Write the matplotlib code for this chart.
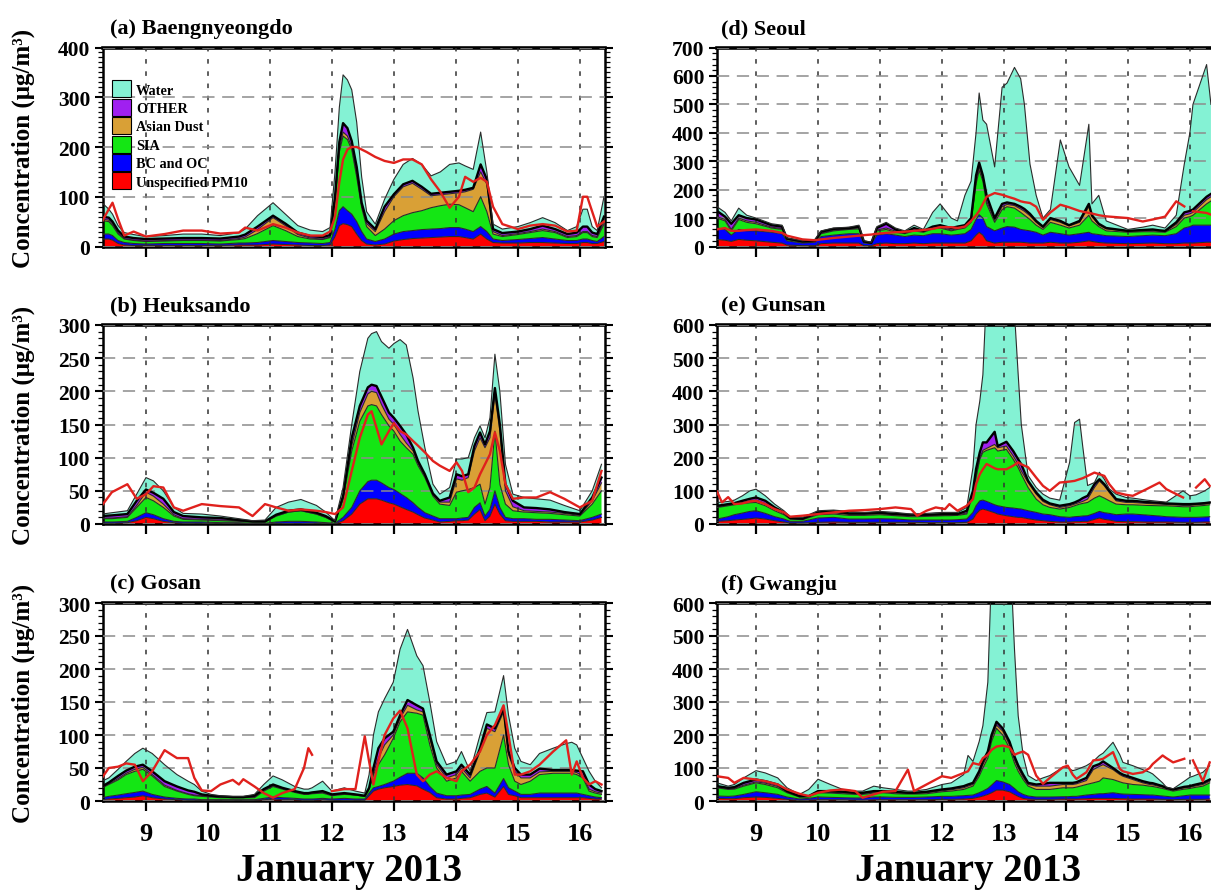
#!/usr/bin/env python3
"""Stacked PM10 composition at six Korean sites, January 2013 (model layers + observed line)."""

import numpy as np
import matplotlib
matplotlib.use('Agg')
import matplotlib.pyplot as plt
from matplotlib.patches import Patch
from matplotlib.ticker import MultipleLocator

plt.rcParams['font.family'] = ['Liberation Serif', 'DejaVu Serif']
plt.rcParams['font.weight'] = 'bold'

nan = float('nan')

LAYER_NAMES = ['Unspecified PM10', 'BC and OC', 'SIA', 'Asian Dust', 'OTHER', 'Water']
LAYER_COLORS = ['#ff0000', '#0000ff', '#14e614', '#d9a036', '#a020f0', '#84f2d4']
DAYS = [9, 10, 11, 12, 13, 14, 15, 16]

# ── (a) Baengnyeongdo ───────────────────────────────────────────────────────
a_t = [8.29, 8.40, 8.46, 8.55, 8.65, 8.80, 9.00, 9.30, 9.60, 9.90,
       10.20, 10.50, 10.60, 10.80, 11.05, 11.25, 11.45, 11.65, 11.85, 11.97,
       12.05, 12.12, 12.18, 12.25, 12.32, 12.40, 12.48, 12.56, 12.70, 12.85,
       13.00, 13.15, 13.30, 13.45, 13.60, 13.75, 13.90, 14.05, 14.15, 14.28,
       14.40, 14.50, 14.60, 14.75, 15.00, 15.20, 15.40, 15.60, 15.80, 15.95,
       16.05, 16.12, 16.20, 16.28, 16.39]
a_red = [15, 15, 13, 6, 3, 2, 2, 2, 2, 2, 2, 3, 3, 3, 5, 4, 3, 2, 2, 3,
         20, 42, 46, 44, 40, 25, 12, 5, 3, 5, 11, 14, 16, 17, 18, 19, 20, 20, 18, 15,
         25, 15, 8, 7, 7, 8, 8, 7, 6, 6, 8, 8, 6, 6, 10]
a_bc = [10, 10, 9, 6, 5, 4, 3, 4, 4, 4, 3, 4, 4, 5, 7, 6, 5, 5, 4, 5,
        15, 30, 34, 28, 25, 25, 18, 10, 7, 10, 14, 16, 16, 17, 17, 17, 18, 18, 17, 15,
        15, 15, 7, 5, 7, 8, 10, 8, 6, 6, 7, 7, 6, 4, 10]
a_sia = [27, 25, 20, 13, 7, 6, 5, 5, 6, 6, 6, 7, 9, 18, 30, 22, 12, 8, 8, 10,
         55, 118, 142, 143, 130, 90, 48, 25, 12, 20, 27, 32, 36, 38, 43, 46, 47, 46, 43, 40,
         60, 40, 10, 8, 10, 12, 14, 13, 6, 8, 13, 13, 8, 8, 25]
a_dust = [3, 3, 3, 2, 1, 1, 1, 1, 1, 1, 1, 2, 3, 8, 16, 10, 4, 2, 1, 1,
          2, 5, 8, 7, 5, 5, 4, 6, 8, 35, 48, 58, 59, 43, 24, 22, 21, 24, 32, 45,
          50, 55, 5, 2, 2, 2, 3, 2, 2, 2, 2, 2, 2, 2, 5]
a_other = [5, 5, 5, 5, 4, 4, 4, 4, 4, 4, 4, 4, 5, 6, 4, 4, 4, 4, 4, 4,
           8, 15, 18, 16, 12, 15, 6, 6, 5, 10, 5, 5, 5, 5, 4, 4, 4, 4, 4, 3,
           15, 10, 5, 5, 4, 5, 7, 5, 5, 6, 10, 10, 6, 5, 10]
a_water = [28, 17, 15, 10, 8, 7, 5, 6, 8, 8, 6, 8, 11, 22, 26, 19, 14, 12, 11, 15,
           50, 70, 97, 97, 103, 90, 52, 18, 10, 15, 30, 40, 45, 45, 36, 42, 55, 56, 48, 37,
           65, 15, 10, 8, 10, 13, 16, 13, 7, 12, 35, 35, 12, 7, 40]
a_obs = [50, 75, 88, 55, 22, 30, 20, 25, 32, 32, 26, 28, 38, 32, 45, 38, 28, 22, 22, 30,
         60, 130, 175, 195, 200, 200, 195, 190, 180, 172, 168, 175, 175, 165, 135, 110, 78, 100, 140, 130,
         138, 130, 80, 45, 35, 42, 45, 42, 30, 32, 100, 100, 70, 40, 50]

# ── (b) Heuksando ───────────────────────────────────────────────────────────
b_t = [8.29, 8.45, 8.70, 8.85, 9.00, 9.12, 9.28, 9.45, 9.60, 9.90,
       10.20, 10.50, 10.72, 10.92, 11.10, 11.30, 11.50, 11.75, 11.90,
       12.05, 12.18, 12.32, 12.45, 12.58, 12.64, 12.72, 12.80, 12.92, 13.00,
       13.10, 13.20, 13.31, 13.39, 13.50, 13.63, 13.74, 13.90, 14.01, 14.10,
       14.20, 14.30, 14.39, 14.47, 14.55, 14.63, 14.71, 14.80, 14.92, 15.10,
       15.30, 15.52, 15.75, 16.00, 16.20, 16.35]
b_red = [1, 1, 2, 5, 10, 8, 4, 2, 1, 1, 1, 1, 0, 0, 1, 1, 1, 1, 1,
         0, 5, 15, 30, 38, 38, 38, 36, 32, 30, 26, 22, 18, 14, 9, 6, 3, 4, 5, 5,
         6, 15, 22, 5, 12, 30, 15, 5, 4, 4, 4, 3, 3, 3, 6, 10]
b_bc = [2, 2, 2, 5, 7, 6, 4, 2, 2, 2, 1, 1, 1, 1, 2, 3, 3, 2, 1,
        1, 5, 10, 20, 26, 28, 28, 26, 23, 22, 20, 18, 14, 11, 8, 6, 5, 4, 3, 4,
        4, 10, 10, 7, 10, 20, 10, 5, 4, 4, 3, 4, 3, 2, 4, 5]
b_sia = [5, 5, 6, 15, 23, 21, 17, 8, 4, 3, 3, 2, 2, 2, 9, 14, 16, 12, 8,
         2, 28, 85, 105, 114, 114, 112, 103, 93, 88, 79, 75, 73, 63, 53, 30, 22, 20, 40, 41,
         42, 30, 28, 18, 33, 90, 35, 20, 12, 10, 10, 9, 8, 7, 20, 35]
b_dust = [1, 1, 1, 3, 8, 7, 5, 2, 1, 1, 1, 1, 0, 0, 0, 0, 0, 0, 0,
          0, 0, 8, 13, 18, 20, 20, 15, 10, 10, 10, 7, 5, 3, 2, 2, 3, 5, 20, 16,
          18, 55, 70, 85, 75, 55, 80, 20, 6, 2, 2, 2, 2, 1, 5, 12]
b_other = [3, 4, 4, 7, 4, 5, 8, 4, 4, 3, 3, 1, 1, 1, 2, 2, 2, 2, 2,
           1, 4, 12, 10, 10, 10, 10, 12, 10, 10, 13, 13, 5, 4, 3, 2, 2, 7, 7, 6,
           5, 8, 8, 5, 10, 10, 10, 10, 9, 5, 5, 4, 2, 2, 5, 8]
b_water = [3, 4, 5, 10, 18, 18, 12, 7, 4, 5, 3, 2, 1, 2, 11, 13, 15, 11, 6,
           1, 13, 20, 52, 74, 77, 82, 83, 97, 112, 130, 135, 105, 75, 40, 14, 10, 15, 23, 26,
           25, 12, 10, 10, 20, 51, 50, 30, 10, 15, 14, 14, 10, 5, 10, 20]
b_obs = [28, 48, 60, 38, 45, 57, 55, 25, 20, 30, 27, 25, 12, 30, 25, 20, 22, 20, 18,
         15, 25, 80, 130, 165, 170, 145, 120, 140, 152, 140, 135, 125, 118, 108, 95, 88, 80, 93, 80,
         48, 55, 75, 90, 105, 138, 110, 60, 38, 40, 40, 48, 38, 25, 35, 80]

# ── (c) Gosan ───────────────────────────────────────────────────────────────
c_t = [8.29, 8.40, 8.55, 8.68, 8.82, 8.95, 9.10, 9.30, 9.50, 9.68, 9.78,
       9.90, 10.05, 10.20, 10.40, 10.50, 10.57, 10.75, 10.90,
       11.05, 11.20, 11.40, 11.55, 11.62, 11.68, 11.85,
       12.00, 12.20, 12.38, 12.53, 12.60, 12.67, 12.75, 12.85,
       12.99, 13.10, 13.22, 13.37, 13.47, 13.58, 13.69, 13.85,
       14.01, 14.09, 14.23, 14.39, 14.50, 14.63, 14.77, 14.85, 14.95,
       15.05, 15.20, 15.35, 15.57, 15.78, 15.87, 15.95, 16.05, 16.15, 16.25, 16.35]
c_red = [2, 3, 4, 5, 6, 8, 5, 3, 2, 1, 1, 1, 1, 1, 1, 1, 1, 1, 2,
         3, 2, 2, 1, 1, 1, 2, 1, 1, 1, 1, 8, 15, 18, 20,
         22, 24, 25, 23, 18, 13, 5, 3, 3, 4, 5, 10, 12, 6, 22, 10, 8,
         5, 5, 5, 5, 5, 5, 5, 5, 4, 3, 3]
c_bc = [3, 4, 5, 6, 7, 7, 5, 3, 2, 2, 2, 1, 1, 1, 1, 1, 1, 1, 2,
        3, 3, 2, 2, 2, 2, 2, 2, 3, 2, 2, 4, 5, 4, 5,
        8, 12, 17, 19, 17, 9, 7, 5, 5, 5, 5, 8, 10, 6, 12, 10, 7,
        5, 5, 7, 7, 7, 7, 7, 5, 4, 3, 2]
c_sia = [15, 18, 23, 29, 32, 33, 28, 16, 11, 7, 5, 5, 4, 3, 3, 3, 3, 3, 11,
         16, 13, 9, 7, 7, 8, 8, 5, 6, 6, 4, 6, 20, 33, 45,
         65, 84, 93, 91, 95, 63, 38, 22, 27, 36, 20, 27, 28, 38, 66, 35, 15,
         15, 20, 28, 30, 30, 30, 28, 25, 7, 6, 5]
c_dust = [0, 1, 2, 2, 3, 3, 2, 2, 1, 1, 1, 1, 1, 1, 0, 0, 0, 1, 1,
          1, 1, 1, 1, 1, 1, 1, 1, 1, 0, 0, 0, 2, 10, 15,
          5, 5, 10, 5, 5, 10, 5, 5, 5, 5, 5, 30, 60, 55, 35, 15, 15,
          10, 5, 4, 3, 3, 3, 3, 3, 3, 2, 2]
c_other = [2, 2, 4, 4, 4, 4, 5, 6, 6, 5, 5, 2, 1, 1, 1, 1, 1, 2, 2,
           2, 1, 1, 1, 1, 1, 2, 1, 1, 1, 1, 2, 8, 15, 10,
           5, 5, 8, 7, 5, 5, 5, 5, 5, 5, 5, 5, 6, 5, 5, 5, 5,
           5, 5, 5, 2, 2, 2, 3, 7, 7, 4, 3]
c_water = [8, 7, 10, 14, 20, 25, 27, 25, 18, 14, 11, 5, 2, 1, 1, 1, 1, 2, 7,
           13, 12, 7, 6, 6, 7, 15, 5, 8, 5, 4, 20, 50, 55, 60,
           75, 100, 107, 75, 65, 50, 30, 15, 15, 20, 5, 20, 18, 25, 50, 55, 30,
           20, 15, 23, 33, 40, 42, 39, 20, 20, 12, 5]
c_obs = [35, 50, 52, 57, 55, 30, 45, 77, 65, 65, 35, 16, 15, 25, 32, 25, 33, 22, 12,
         5, 12, 18, 50, 80, 70, nan, 15, 18, 18, 98, 60, 25, 60, 100,
         125, 137, 110, 40, 30, 40, 45, 35, 30, 45, 55, 75, 100, 115, 145, 100, 40,
         40, 45, 55, 75, 92, 40, 60, 35, 25, 30, 25]

# ── (d) Seoul ───────────────────────────────────────────────────────────────
d_t = [8.37, 8.50, 8.60, 8.72, 8.85, 9.00, 9.25, 9.42, 9.50, 9.75,
       9.95, 10.05, 10.25, 10.50, 10.66, 10.74, 10.86, 10.95, 11.10, 11.25,
       11.40, 11.55, 11.70, 11.85, 11.97, 12.15, 12.25, 12.37, 12.47, 12.55,
       12.60, 12.66, 12.72, 12.85, 12.97, 13.05, 13.17, 13.27, 13.33, 13.42,
       13.52, 13.63, 13.75, 13.91, 14.05, 14.22, 14.37, 14.42, 14.53, 14.65,
       15.00, 15.24, 15.40, 15.50, 15.60, 15.78, 15.91, 16.00, 16.05, 16.27, 16.34]
d_red = [25, 22, 18, 25, 22, 20, 15, 12, 5, 3, 3, 10, 12, 12, 12, 3, 3, 10, 12, 10,
         10, 12, 10, 12, 12, 12, 12, 12, 20, 40, 50, 40, 20, 12, 15, 15, 15, 15, 14, 12,
         12, 12, 15, 12, 12, 15, 20, 18, 14, 12, 10, 11, 12, 11, 10, 10, 12, 12, 12, 15, 15]
d_bc = [40, 38, 22, 35, 33, 35, 35, 33, 15, 9, 12, 25, 28, 33, 33, 9, 7, 30, 33, 30,
        25, 28, 28, 33, 33, 28, 30, 33, 40, 55, 62, 60, 50, 43, 50, 55, 53, 45, 44, 43,
        38, 28, 35, 33, 28, 30, 30, 27, 28, 26, 25, 27, 28, 28, 28, 35, 53, 58, 63, 60, 60]
d_sia = [35, 30, 15, 35, 30, 25, 15, 15, 5, 3, 3, 10, 15, 15, 17, 3, 2, 15, 15, 10,
         10, 15, 12, 17, 20, 15, 18, 20, 25, 125, 156, 130, 80, 30, 65, 70, 67, 60, 52, 40,
         25, 20, 35, 30, 25, 30, 60, 45, 28, 17, 15, 14, 12, 12, 12, 25, 35, 35, 35, 75, 85]
d_dust = [5, 5, 5, 5, 5, 5, 3, 3, 1, 1, 1, 2, 2, 2, 3, 1, 0, 3, 5, 4,
          2, 3, 2, 3, 3, 3, 3, 3, 5, 10, 12, 10, 10, 7, 10, 8, 9, 12, 14, 13,
          10, 6, 10, 10, 7, 10, 30, 15, 6, 7, 3, 4, 4, 3, 2, 8, 10, 10, 10, 15, 15]
d_other = [20, 10, 20, 10, 10, 10, 7, 7, 2, 2, 1, 5, 5, 3, 5, 2, 1, 7, 15, 6,
           3, 7, 3, 5, 7, 7, 7, 7, 10, 20, 15, 10, 20, 8, 10, 7, 6, 8, 8, 7,
           5, 4, 5, 5, 3, 5, 10, 5, 4, 3, 2, 2, 4, 3, 3, 7, 10, 10, 10, 10, 10]
d_water = [15, 15, 10, 25, 10, 5, 5, 5, 2, 2, 5, 3, 3, 3, 5, 2, 2, 5, 5, 5,
           5, 10, 5, 50, 75, 35, 20, 105, 130, 150, 245, 195, 250, 180, 410, 420, 480, 450, 368, 175,
           90, 30, 30, 285, 205, 125, 280, 40, 100, 25, 5, 10, 15, 13, 10, 25, 170, 275, 370, 465, 315]
d_obs = [60, 65, 55, 55, 58, 60, 55, 48, 38, 25, 22, 25, 30, 35, 38, 40, 42, 45, 48, 50,
         52, 55, 58, 62, 68, 68, 65, 70, 90, 110, 125, 150, 175, 188, 182, 176, 168, 159, 156, 153,
         140, 94, 120, 147, 138, 125, 118, 116, 110, 106, 100, 88, 95, 100, 105, 159, 141, nan, 124, 118, 112]

# ── (e) Gunsan ──────────────────────────────────────────────────────────────
e_t = [8.37, 8.45, 8.55, 8.65, 8.78, 8.90, 9.00, 9.15, 9.30, 9.45,
       9.55, 9.75, 10.00, 10.25, 10.50, 10.75, 11.00, 11.25, 11.50, 11.60,
       11.75, 11.90, 12.05, 12.12, 12.25, 12.40, 12.50, 12.55, 12.61, 12.66,
       12.72, 12.85, 12.90, 13.04, 13.15, 13.23, 13.28, 13.39, 13.52, 13.63,
       13.74, 13.90, 14.06, 14.14, 14.22, 14.27, 14.35, 14.46, 14.54, 14.62,
       14.70, 14.81, 14.97, 15.08, 15.30, 15.51, 15.62, 15.89, 16.00, 16.10,
       16.24, 16.32]
e_red = [8, 9, 10, 12, 14, 16, 18, 15, 10, 6, 3, 3, 5, 6, 5, 5, 5, 5, 5, 5,
         4, 4, 4, 4, 4, 5, 15, 30, 42, 45, 42, 34, 30, 25, 22, 20, 20, 16, 12, 10,
         8, 6, 6, 7, 7, 8, 8, 14, 18, 14, 12, 8, 7, 7, 6, 6, 6, 5, 5, 5, 6, 6]
e_bc = [7, 9, 12, 16, 19, 22, 22, 17, 12, 9, 5, 5, 13, 14, 10, 10, 11, 10, 7, 7,
        8, 8, 8, 8, 9, 10, 20, 25, 28, 27, 26, 24, 25, 25, 26, 26, 25, 24, 23, 20,
        20, 16, 14, 15, 16, 16, 17, 18, 20, 20, 20, 20, 23, 23, 21, 18, 16, 15, 15, 15, 15, 16]
e_sia = [35, 34, 33, 30, 29, 26, 25, 23, 18, 13, 7, 5, 10, 10, 11, 11, 12, 10, 10, 10,
         11, 12, 13, 13, 13, 15, 55, 85, 125, 144, 154, 172, 165, 175, 147, 124, 105, 70, 40, 28,
         22, 23, 30, 33, 37, 38, 40, 46, 47, 44, 38, 32, 28, 28, 29, 31, 33, 32, 32, 34, 35, 36]
e_dust = [2, 2, 2, 2, 3, 6, 7, 7, 5, 4, 1, 1, 3, 4, 3, 3, 3, 3, 3, 3,
          2, 2, 2, 2, 2, 3, 5, 5, 5, 6, 6, 10, 10, 10, 10, 10, 10, 15, 15, 10,
          8, 5, 5, 5, 5, 6, 10, 32, 45, 37, 25, 10, 7, 7, 6, 5, 4, 4, 4, 4, 4, 4]
e_other = [3, 3, 3, 3, 5, 6, 8, 8, 5, 3, 2, 2, 4, 4, 3, 3, 3, 2, 3, 3,
           3, 3, 3, 3, 2, 7, 5, 21, 16, 24, 18, 38, 5, 13, 15, 15, 20, 5, 5, 5,
           4, 5, 5, 5, 7, 10, 10, 10, 5, 5, 5, 5, 5, 5, 4, 4, 3, 4, 4, 3, 3, 3]
e_water = [10, 9, 8, 9, 15, 24, 25, 15, 10, 5, 4, 4, 5, 4, 6, 3, 4, 5, 2, 2,
           4, 5, 5, 5, 5, 10, 70, 134, 154, 204, 454, 572, 665, 652, 480, 255, 120, 16, 15, 17,
           16, 17, 126, 241, 244, 158, 31, 5, 21, 15, 6, 15, 10, 8, 6, 4, 4, 40, 25, 27, 37, 45]
e_obs = [98, 65, 81, 60, 62, 68, 70, 60, 45, 35, 22, 25, 30, 35, 40, 42, 45, 50, 45, 25,
         40, 50, 45, 60, 40, 55, 75, 120, 150, 165, 181, 168, 165, 165, 176, 186, 180, 171, 140, 115,
         100, 125, 128, 130, 135, 138, 145, 155, 150, 145, 120, 95, 88, 85, 105, 125, 105, 80, nan, 110,
         135, 115]

# ── (f) Gwangju ─────────────────────────────────────────────────────────────
f_t = [8.37, 8.55, 8.65, 8.80, 9.00, 9.15, 9.35, 9.50, 9.70, 9.85,
       10.00, 10.20, 10.40, 10.60, 10.72, 10.90, 11.05, 11.25, 11.45, 11.55,
       11.75, 12.00, 12.15, 12.35, 12.42, 12.50, 12.60, 12.66, 12.74, 12.80,
       12.88, 12.98, 13.09, 13.17, 13.23, 13.31, 13.39, 13.52, 13.63, 13.74,
       13.95, 14.03, 14.11, 14.17, 14.33, 14.44, 14.54, 14.60, 14.76, 14.87,
       14.92, 15.08, 15.24, 15.35, 15.40, 15.56, 15.62, 15.73, 15.91, 16.00,
       16.05, 16.21, 16.32]
f_red = [8, 7, 7, 10, 12, 11, 8, 5, 2, 3, 4, 4, 4, 3, 3, 4, 4, 4, 4, 4,
         4, 5, 5, 6, 7, 8, 12, 15, 20, 25, 33, 33, 28, 20, 14, 8, 6, 5, 5, 5,
         6, 6, 6, 6, 7, 8, 8, 8, 8, 7, 7, 6, 6, 6, 6, 5, 5, 4, 5, 5, 5, 5, 6]
f_bc = [7, 7, 8, 10, 16, 14, 12, 7, 4, 5, 8, 7, 6, 6, 6, 8, 8, 7, 7, 7,
        8, 9, 9, 10, 10, 10, 13, 15, 18, 23, 29, 25, 22, 18, 14, 12, 9, 7, 7, 7,
        7, 7, 8, 8, 11, 12, 14, 14, 17, 15, 14, 14, 13, 12, 12, 10, 9, 8, 11, 13, 13, 13, 12]
f_sia = [25, 21, 21, 25, 27, 25, 20, 13, 6, 5, 13, 13, 12, 11, 11, 12, 13, 11, 10, 10,
         10, 14, 16, 19, 23, 27, 50, 70, 92, 132, 158, 142, 110, 77, 62, 45, 30, 23, 23, 23,
         27, 27, 26, 28, 32, 35, 38, 48, 40, 36, 34, 30, 29, 27, 26, 23, 21, 18, 20, 20, 22, 27, 37]
f_dust = [2, 2, 2, 3, 3, 4, 4, 2, 1, 1, 2, 2, 3, 2, 2, 3, 3, 3, 2, 2,
          3, 3, 4, 5, 5, 5, 7, 10, 10, 10, 10, 12, 10, 10, 10, 7, 5, 10, 10, 10,
          10, 10, 10, 10, 12, 40, 45, 40, 30, 22, 20, 15, 7, 5, 5, 4, 3, 3, 4, 4, 4, 5, 5]
f_other = [3, 3, 4, 7, 7, 6, 6, 3, 2, 1, 3, 4, 3, 3, 3, 3, 2, 3, 2, 2,
           3, 4, 4, 5, 5, 5, 8, 10, 10, 10, 10, 8, 10, 10, 8, 8, 5, 5, 7, 10,
           5, 5, 5, 5, 8, 10, 7, 10, 5, 5, 5, 5, 5, 5, 5, 3, 2, 2, 3, 3, 4, 5, 5]
f_water = [10, 5, 8, 15, 27, 25, 20, 10, 5, 20, 36, 20, 7, 5, 5, 15, 10, 7, 5, 5,
           7, 15, 17, 35, 88, 65, 90, 108, 210, 500, 660, 680, 620, 325, 150, 58, 22, 12, 18, 22,
           47, 45, 37, 38, 37, 15, 26, 25, 78, 55, 37, 37, 35, 32, 28, 10, 2, 2, 17, 27, 27, 32, 42]
f_obs = [75, 70, 55, 70, 65, 60, 50, 35, 22, 15, 25, 32, 35, 30, 10, 20, 28, 30, 95, 30,
         50, 75, 70, 85, 90, 115, 110, 130, 140, 155, 165, 168, 163, 140, 145, 150, 140, 77, 52, 70,
         102, 107, 80, 67, 87, 123, 125, 128, 148, 97, 90, 82, 87, 100, 112, 138, 130, 117, 128, nan,
         123, 60, 117]


# ─────────────────────────────────────────────────────────────────────────────

W_PX, H_PX = 1211, 895
COL_X = {0: 102.6, 1: 717.0}          # left spine, px
COL_XLIM = {0: (8.30, 16.40), 1: (8.37, 16.47)}
ROW_Y = {0: (48.5, 247.5), 1: (326.0, 525.0), 2: (604.0, 802.0)}   # top, bottom px
AX_W_PX = 502.0


def draw_panel(ax, title, t, layers, obs, ymax, ystep, yminor, col, bottom_row):
    t = np.asarray(t, dtype=float)
    comp = np.asarray(layers, dtype=float)
    ax.stackplot(t, comp, colors=LAYER_COLORS, linewidth=0, zorder=1)
    tops = np.cumsum(comp, axis=0)
    for i, top in enumerate(tops):
        if i == 4:
            ax.plot(t, top, color='black', lw=1.7, zorder=3)
        else:
            ax.plot(t, top, color='#2b2b2b', lw=0.8, zorder=3)
    ax.plot(t, np.asarray(obs, dtype=float), color='#e0211d', lw=1.7, zorder=4)

    ax.set_xlim(*COL_XLIM[col])
    ax.set_ylim(0, ymax)
    ax.set_xticks(DAYS)
    ax.yaxis.set_major_locator(MultipleLocator(ystep))
    ax.yaxis.set_minor_locator(MultipleLocator(yminor))

    ax.set_axisbelow(False)
    ax.yaxis.grid(True, which='major', linestyle=(0, (8, 5)), color='#8c8c8c', lw=1.1)
    ax.xaxis.grid(True, which='major', linestyle=(0, (3, 5)), color='#333333', lw=1.1)

    ax.tick_params(axis='x', which='major', direction='out', length=7, width=1.6,
                   labelsize=19, pad=8, top=False, labelbottom=bottom_row)
    ax.tick_params(axis='y', which='major', direction='out', length=6, width=1.5,
                   labelsize=15.5, pad=3, left=True, right=True, labelright=False)
    ax.tick_params(axis='y', which='minor', direction='out', length=3.5, width=0.9,
                   left=True, right=True)
    for lab in ax.get_xticklabels() + ax.get_yticklabels():
        lab.set_fontweight('bold')

    for side in ('left', 'right', 'bottom'):
        ax.spines[side].set_linewidth(1.8)
    ax.spines['top'].set_linewidth(2.6)

    ax.text(0.015 if col == 0 else 0.007, 1.072, title, transform=ax.transAxes,
            fontsize=16, fontweight='bold', ha='left', va='baseline')


def main():
    fig = plt.figure(figsize=(W_PX / 100, H_PX / 100), dpi=100)

    panels = [
        ('(a) Baengnyeongdo', a_t, [a_red, a_bc, a_sia, a_dust, a_other, a_water], a_obs, 400, 100, 10, 0, 0),
        ('(b) Heuksando', b_t, [b_red, b_bc, b_sia, b_dust, b_other, b_water], b_obs, 300, 50, 10, 1, 0),
        ('(c) Gosan', c_t, [c_red, c_bc, c_sia, c_dust, c_other, c_water], c_obs, 300, 50, 10, 2, 0),
        ('(d) Seoul', d_t, [d_red, d_bc, d_sia, d_dust, d_other, d_water], d_obs, 700, 100, 20, 0, 1),
        ('(e) Gunsan', e_t, [e_red, e_bc, e_sia, e_dust, e_other, e_water], e_obs, 600, 100, 20, 1, 1),
        ('(f) Gwangju', f_t, [f_red, f_bc, f_sia, f_dust, f_other, f_water], f_obs, 600, 100, 20, 2, 1),
    ]

    axes = {}
    for title, t, layers, obs, ymax, ystep, yminor, row, col in panels:
        top_px, bot_px = ROW_Y[row]
        rect = [COL_X[col] / W_PX, 1 - bot_px / H_PX, AX_W_PX / W_PX, (bot_px - top_px) / H_PX]
        ax = fig.add_axes(rect)
        draw_panel(ax, title, t, layers, obs, ymax, ystep, yminor, col, row == 2)
        axes[(row, col)] = ax
        if col == 0:
            yc = 1 - (top_px + bot_px) / 2 / H_PX
            fig.text(23 / W_PX, yc, 'Concentration (μg/m³)', rotation=90,
                     ha='center', va='center', fontsize=18, fontweight='bold')

    handles = [Patch(facecolor=c, edgecolor='black', lw=0.8) for c in LAYER_COLORS][::-1]
    axes[(0, 0)].legend(handles, LAYER_NAMES[::-1], loc='upper left',
                        bbox_to_anchor=(0.018, 0.835), frameon=False,
                        prop={'size': 10.3, 'weight': 'bold'},
                        handlelength=1.35, handleheight=1.45, labelspacing=0.1,
                        handletextpad=0.35, borderpad=0, borderaxespad=0)

    for xc in (349 / W_PX, 968 / W_PX):
        fig.text(xc, 1 - 872 / H_PX, 'January 2013', ha='center', va='center',
                 fontsize=28, fontweight='bold')

    fig.savefig('out.png', dpi=100)
    plt.close(fig)


if __name__ == '__main__':
    main()
